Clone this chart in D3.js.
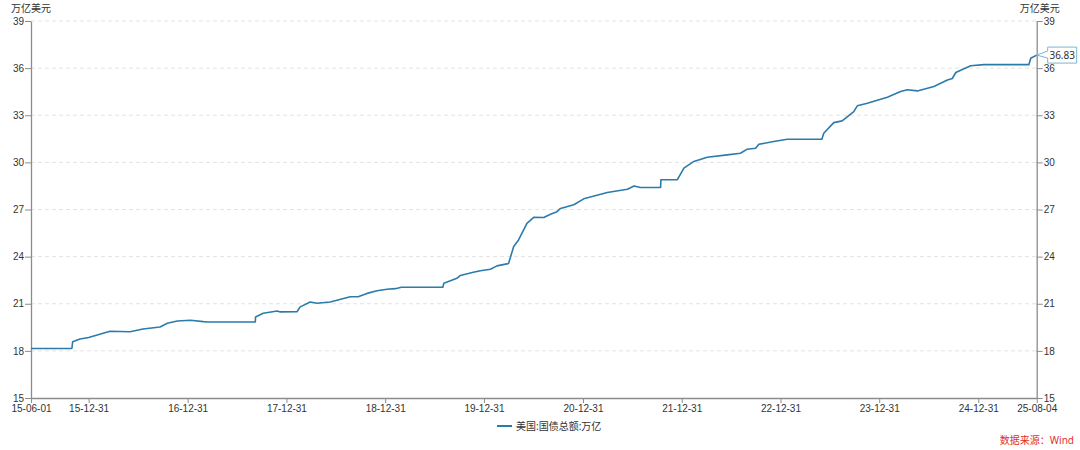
<!DOCTYPE html>
<html><head><meta charset="utf-8">
<script src="https://cdn.jsdelivr.net/npm/d3@7/dist/d3.min.js"></script>
<style>
body{margin:0;background:#fff;}
svg{display:block;font-family:"Noto Sans","Noto Sans CJK SC",sans-serif;}
</style></head>
<body><svg id="c" width="1080" height="450"></svg>
<script>
const dates = ["2015-06-01","2015-10-30","2015-11-02","2015-11-29","2015-12-31","2016-03-19","2016-06-01","2016-07-19","2016-09-20","2016-10-17","2016-11-23","2017-01-10","2017-02-27","2017-03-15","2017-09-07","2017-09-08","2017-10-06","2017-11-27","2017-12-08","2018-02-08","2018-02-20","2018-03-29","2018-04-23","2018-06-11","2018-08-24","2018-09-22","2018-10-25","2018-12-01","2019-01-07","2019-02-06","2019-03-01","2019-08-01","2019-08-05","2019-09-22","2019-10-05","2019-11-22","2019-12-18","2020-01-24","2020-02-17","2020-03-25","2020-03-31","2020-04-19","2020-05-07","2020-06-07","2020-07-02","2020-08-08","2020-09-02","2020-09-26","2020-10-09","2020-11-27","2021-01-03","2021-03-31","2021-06-13","2021-07-08","2021-08-01","2021-10-14","2021-10-15","2021-12-15","2022-01-08","2022-02-14","2022-04-04","2022-06-17","2022-08-05","2022-08-30","2022-09-30","2022-10-12","2022-12-06","2023-01-25","2023-06-02","2023-06-09","2023-07-16","2023-08-16","2023-09-28","2023-10-11","2023-11-17","2024-01-30","2024-03-19","2024-04-13","2024-05-20","2024-07-20","2024-09-08","2024-09-26","2024-10-09","2024-12-03","2025-01-21","2025-07-06","2025-07-13","2025-08-04"];
const debtValues = [18.15,18.15,18.58,18.76,18.85,19.25,19.22,19.39,19.52,19.76,19.90,19.95,19.86,19.84,19.84,20.16,20.39,20.54,20.48,20.49,20.80,21.11,21.03,21.11,21.45,21.45,21.66,21.83,21.92,21.96,22.05,22.05,22.30,22.62,22.80,23.00,23.10,23.20,23.41,23.54,23.56,24.64,25.06,26.12,26.50,26.49,26.70,26.86,27.07,27.30,27.68,28.08,28.29,28.50,28.40,28.40,28.89,28.90,29.63,30.06,30.33,30.48,30.58,30.84,30.90,31.15,31.33,31.47,31.47,31.85,32.53,32.64,33.23,33.60,33.77,34.15,34.51,34.62,34.55,34.83,35.25,35.34,35.72,36.15,36.22,36.22,36.63,36.83];
const xTickDates = ["2015-06-01","2015-12-31","2016-12-31","2017-12-31","2018-12-31","2019-12-31","2020-12-31","2021-12-31","2022-12-31","2023-12-31","2024-12-31","2025-08-04"];
const yTicks = [15,18,21,24,27,30,33,36,39];
const seriesName = "美国:国债总额:万亿";
const unitLabel = "万亿美元";
const sourceText = "数据来源：Wind";
const lastLabel = "36.83";

const parse = d3.timeParse("%Y-%m-%d");
const data = dates.map((d,i)=>({date:parse(d), value:debtValues[i]}));

const svg = d3.select("#c");
const L = 31, R = 1036.7, T = 21, B = 398;
const x = d3.scaleTime().domain([parse(dates[0]), parse(dates[dates.length-1])]).range([L,R]);
const y = d3.scaleLinear().domain([15,39]).range([B,T]);

// grid
svg.append("g").selectAll("line").data(yTicks.filter(v=>v>15)).join("line")
  .attr("x1",L).attr("x2",R).attr("y1",d=>y(d)).attr("y2",d=>y(d))
  .attr("stroke","#e3e3e3").attr("stroke-dasharray","4,3").attr("stroke-width",1);

// axes
const axisColor = "#8c8c8c";
const xAxis = svg.append("g").attr("transform",`translate(0,${B})`)
  .call(d3.axisBottom(x).tickValues(xTickDates.map(parse)).tickFormat(d3.timeFormat("%y-%m-%d")).tickSize(5).tickSizeOuter(0));
const yLeft = svg.append("g").attr("transform",`translate(${L},0)`)
  .call(d3.axisLeft(y).tickValues(yTicks).tickSize(6).tickSizeOuter(0));
const yRight = svg.append("g").attr("transform",`translate(${R},0)`)
  .call(d3.axisRight(y).tickValues(yTicks).tickSize(6).tickSizeOuter(0));
[xAxis,yLeft,yRight].forEach(g=>{
  g.select(".domain").attr("stroke",axisColor).attr("stroke-width",1.3);
  g.selectAll(".tick line").attr("stroke",axisColor);
  g.selectAll(".tick text").attr("fill","#333").style("font-size","10px");
});
xAxis.selectAll(".tick text").attr("dy","0.9em").attr("y",5);
yLeft.selectAll(".tick text").attr("x",-7);
yRight.selectAll(".tick text").attr("x",7);

// unit labels
svg.append("text").attr("x",L).attr("y",12).attr("text-anchor","middle")
  .style("font-size","10px").attr("fill","#333").text(unitLabel);
svg.append("text").attr("x",R+3).attr("y",12).attr("text-anchor","middle")
  .style("font-size","10px").attr("fill","#333").text(unitLabel);

// line
const lineColor = "#2b7bab";
svg.append("path").datum(data)
  .attr("fill","none").attr("stroke",lineColor).attr("stroke-width",1.6)
  .attr("stroke-linejoin","round")
  .attr("d", d3.line().x(d=>x(d.date)).y(d=>y(d.value)));

// last value label
const last = data[data.length-1];
const lx = x(last.date), ly = y(last.value);
const bx = lx+11, bw = 29, bh = 16, cy = ly;
const lab = svg.append("g");
lab.append("path")
  .attr("d",`M${lx},${ly} L${bx},${cy-4} L${bx},${cy-bh/2} L${bx+bw},${cy-bh/2} L${bx+bw},${cy+bh/2} L${bx},${cy+bh/2} L${bx},${cy+3} Z`)
  .attr("fill","#fff").attr("stroke","#7fb3d1").attr("stroke-width",1);
lab.append("text").attr("x",bx+bw/2).attr("y",cy+3.5).attr("text-anchor","middle")
  .style("font-size","10px").attr("fill","#333").text(lastLabel);

// legend
const lg = svg.append("g");
lg.append("line").attr("x1",497).attr("x2",512).attr("y1",426).attr("y2",426)
  .attr("stroke",lineColor).attr("stroke-width",2);
lg.append("text").attr("x",516).attr("y",429.5).style("font-size","10px").attr("fill","#333").text(seriesName);

// source
svg.append("text").attr("x",1074).attr("y",444).attr("text-anchor","end")
  .style("font-size","10px").attr("fill","#e0302b").text(sourceText);
</script></body></html>
